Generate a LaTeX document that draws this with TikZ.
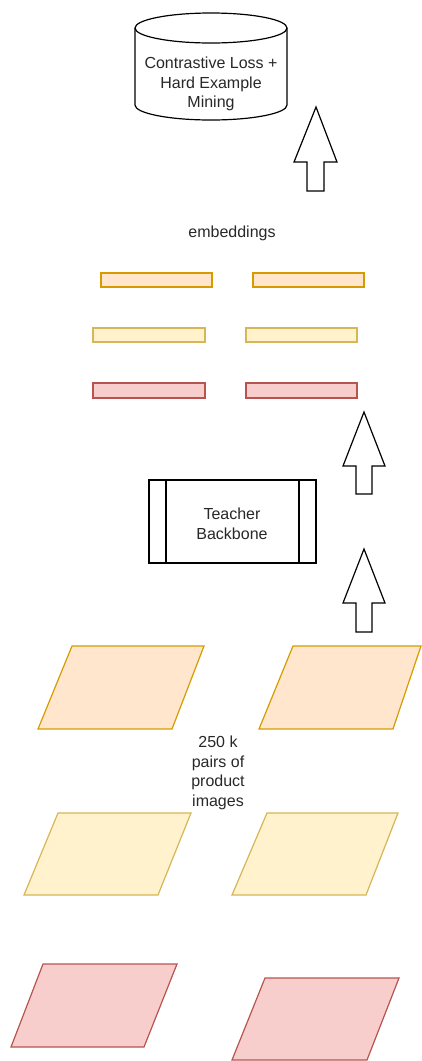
\documentclass[tikz,border=0pt]{standalone}
\usepackage{fontspec}
\setmainfont{Liberation Sans}
\definecolor{orfill}{HTML}{FFE6CC}
\definecolor{orline}{HTML}{D79B00}
\definecolor{yefill}{HTML}{FFF2CC}
\definecolor{yeline}{HTML}{D6B656}
\definecolor{refill}{HTML}{F8CECC}
\definecolor{reline}{HTML}{B85450}
\definecolor{txt}{HTML}{282828}
\begin{document}
\begin{tikzpicture}[x=1pt,y=1pt,line join=miter,
  lbl/.style={text=txt,align=center,font=\fontsize{16}{19.5}\selectfont,inner sep=0pt},
  blk/.style={draw=black,line width=1.2pt,fill=white},
  ob/.style={draw=orline,fill=orfill,line width=1.2pt},
  yb/.style={draw=yeline,fill=yefill,line width=1.2pt},
  rb/.style={draw=reline,fill=refill,line width=1.2pt}]
\useasboundingbox (0,0) rectangle (421,-1061);
% cylinder
\draw[blk] (135,-28) -- (135,-105) arc[start angle=180,end angle=360,x radius=76,y radius=15]
  -- (287,-28) arc[start angle=0,end angle=180,x radius=76,y radius=15] -- cycle;
\draw[line width=1.2pt] (135,-28) arc[start angle=180,end angle=360,x radius=76,y radius=15];
\node[lbl] (loss) at (211,-84) {Contrastive Loss +\\Hard Example\\Mining};
% arrows
\draw[blk] (316,-107) -- (337,-162) -- (324,-162) -- (324,-191) -- (307,-191) -- (307,-162) -- (294,-162) -- cycle;
\draw[blk] (364,-412) -- (385,-466) -- (372,-466) -- (372,-494) -- (356,-494) -- (356,-466) -- (343,-466) -- cycle;
\draw[blk] (364,-549) -- (385,-603) -- (372,-603) -- (372,-632) -- (356,-632) -- (356,-603) -- (343,-603) -- cycle;
% embeddings
\node[lbl] (emb) at (232,-233) {embeddings};
\draw[ob] (101,-273) rectangle (212,-287);
\draw[ob] (253,-273) rectangle (364,-287);
\draw[yb] (93,-328) rectangle (205,-342);
\draw[yb] (246,-328) rectangle (357,-342);
\draw[rb] (93,-383) rectangle (205,-398);
\draw[rb] (246,-383) rectangle (357,-398);
% teacher backbone
\draw[blk] (149,-480) rectangle (316,-563);
\draw[line width=1.2pt] (166,-480) -- (166,-563) (299,-480) -- (299,-563);
\node[lbl] (tb) at (232,-524) {Teacher\\Backbone};
% parallelograms
\draw[ob] (72,-646) -- (204,-646) -- (172,-729) -- (38,-729) -- cycle;
\draw[ob] (293,-646) -- (421,-646) -- (393,-729) -- (259,-729) -- cycle;
\node[lbl] (pairs) at (218,-773) {250 k\\pairs of\\product\\images};
\draw[yb] (58,-813) -- (191,-813) -- (158,-895) -- (24,-895) -- cycle;
\draw[yb] (267,-813) -- (398,-813) -- (366,-895) -- (232,-895) -- cycle;
\draw[rb] (43,-964) -- (177,-964) -- (144,-1047) -- (11,-1047) -- cycle;
\draw[rb] (265,-978) -- (399,-978) -- (367,-1060) -- (232,-1060) -- cycle;
\end{tikzpicture}
\end{document}
